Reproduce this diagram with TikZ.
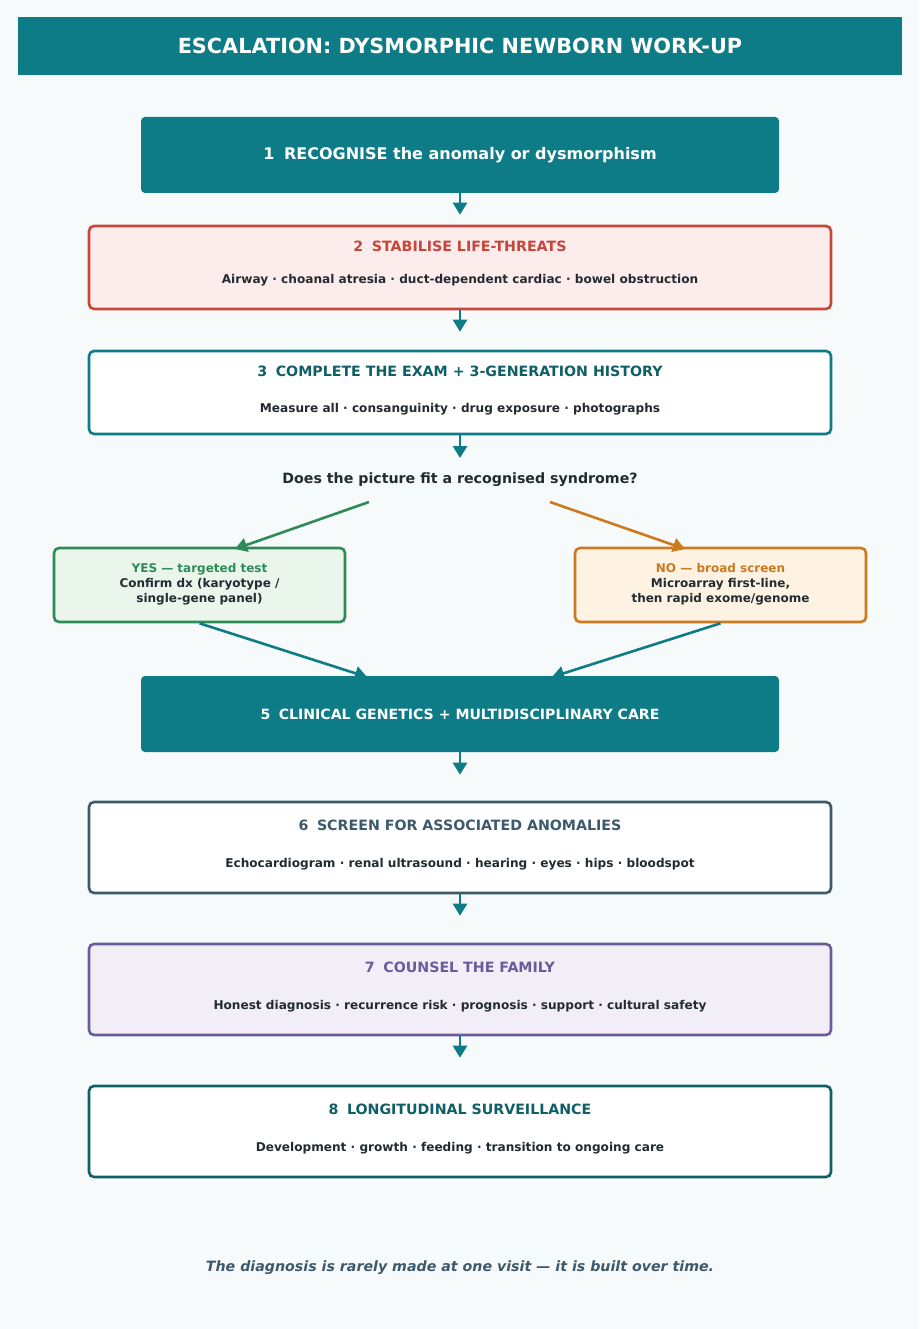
\documentclass[tikz,border=0pt]{standalone}
\usepackage{fontspec}
\setmainfont{DejaVu Sans}
\usepackage{tikz}
\usetikzlibrary{positioning,arrows.meta}
\definecolor{bgcol}{HTML}{F7FAFA}
\definecolor{teal1}{HTML}{0E7C86}
\definecolor{tealdk}{HTML}{0F5F66}
\definecolor{redln}{HTML}{C8453A}
\definecolor{redbg}{HTML}{FDECEC}
\definecolor{grnln}{HTML}{2E8B57}
\definecolor{grnbg}{HTML}{EAF5EC}
\definecolor{orgln}{HTML}{CC7A1E}
\definecolor{orgbg}{HTML}{FEF2E3}
\definecolor{slate}{HTML}{3D5A6C}
\definecolor{purln}{HTML}{6B5B9A}
\definecolor{purbg}{HTML}{F1EEF8}
\definecolor{ink}{HTML}{222B30}
\newcommand{\fs}[1]{\fontsize{#1}{#1}\selectfont}
\tikzset{
  >={Triangle[length=12pt,width=14pt]},
  solidbox/.style={fill=teal1,rounded corners=4pt,minimum width=638pt,
    minimum height=76pt,inner sep=0pt,text=white,font=\bfseries\fs{16}},
  stepbox/.style={draw=#1,line width=2.6pt,rounded corners=5pt,
    minimum width=742pt,inner sep=0pt,fill=white},
  branchbox/.style={draw=#1,line width=2.6pt,rounded corners=5pt,
    minimum width=291pt,minimum height=74pt,inner sep=0pt},
  steptitle/.style={font=\bfseries\fs{14.2},text=#1,inner sep=0pt},
  stepsub/.style={font=\bfseries\fs{12.1},text=ink,inner sep=0pt},
  branchtxt/.style={font=\bfseries\fs{12},text=ink,align=center,inner sep=0pt},
  flow/.style={->,line width=2.6pt,draw=teal1},
}
\begin{document}
\begin{tikzpicture}[x=1pt,y=-1pt]
  \fill[bgcol] (0,0) rectangle (919,1329);
  \useasboundingbox (0,0) rectangle (919,1329);
  % title bar
  \node[fill=teal1,minimum width=884pt,minimum height=58pt,inner sep=0pt,
    text=white,font=\bfseries\fs{20.8}] (title) at (460,46)
    {ESCALATION: DYSMORPHIC NEWBORN WORK-UP};
  % step 1
  \node[solidbox] (s1) at (460,155) {1\hspace{0.6em}RECOGNISE the anomaly or dysmorphism};
  % step 2
  \node[stepbox=redln,fill=redbg,minimum height=83pt] (s2) at (460,267.5) {};
  \node[steptitle=redln] (s2t) at (460,246) {2\hspace{0.6em}STABILISE LIFE-THREATS};
  \node[stepsub] (s2s) at (460,280) {Airway · choanal atresia · duct-dependent cardiac · bowel obstruction};
  % step 3
  \node[stepbox=teal1,minimum height=83pt] (s3) at (460,392.5) {};
  \node[steptitle=tealdk] (s3t) at (460,371) {3\hspace{0.6em}COMPLETE THE EXAM + 3-GENERATION HISTORY};
  \node[stepsub] (s3s) at (460,409) {Measure all · consanguinity · drug exposure · photographs};
  % decision
  \node[font=\bfseries\fs{14.2},text=ink,inner sep=0pt] (q) at (460,480)
    {Does the picture fit a recognised syndrome?};
  \coordinate (qL) at (369,502);
  \coordinate (qR) at (550,502);
  \node[branchbox=grnln,fill=grnbg] (yes) at (199.5,585) {};
  \node[branchtxt] (yest) at (199.5,584)
    {\textcolor{grnln}{YES — targeted test}\\[3pt]Confirm dx (karyotype /\\[3pt]single-gene panel)};
  \node[branchbox=orgln,fill=orgbg] (no) at (720.5,585) {};
  \node[branchtxt] (not) at (720.5,584)
    {\textcolor{orgln}{NO — broad screen}\\[3pt]Microarray first-line,\\[3pt]then rapid exome/genome};
  % step 5
  \node[solidbox,font=\bfseries\fs{14.1}] (s5) at (460,714) {5\hspace{0.6em}CLINICAL GENETICS + MULTIDISCIPLINARY CARE};
  % step 6
  \node[stepbox=slate,minimum height=91pt] (s6) at (460,847.5) {};
  \node[steptitle=slate] (s6t) at (460,825) {6\hspace{0.6em}SCREEN FOR ASSOCIATED ANOMALIES};
  \node[stepsub] (s6s) at (460,864) {Echocardiogram · renal ultrasound · hearing · eyes · hips · bloodspot};
  % step 7
  \node[stepbox=purln,fill=purbg,minimum height=91pt] (s7) at (460,989.5) {};
  \node[steptitle=purln] (s7t) at (460,967) {7\hspace{0.6em}COUNSEL THE FAMILY};
  \node[stepsub] (s7s) at (460,1006) {Honest diagnosis · recurrence risk · prognosis · support · cultural safety};
  % step 8
  \node[stepbox=tealdk,minimum height=91pt] (s8) at (460,1131.5) {};
  \node[steptitle=tealdk] (s8t) at (460,1109) {8\hspace{0.6em}LONGITUDINAL SURVEILLANCE};
  \node[stepsub] (s8s) at (460,1148) {Development · growth · feeding · transition to ongoing care};
  % footer
  \node[font=\bfseries\itshape\fs{14.2},text=slate,inner sep=0pt] (foot) at (460,1268)
    {The diagnosis is rarely made at one visit — it is built over time.};
  % connectors
  \draw[flow] (s1.south) -- ([yshift=10pt]s2.north);
  \draw[flow] (s2.south) -- ([yshift=18pt]s3.north);
  \draw[flow] (s3.south) -- (460,458);
  \draw[->,line width=2.6pt,draw=grnln] (qL) -- (235,549);
  \draw[->,line width=2.6pt,draw=orgln] (qR) -- (685,549);
  \draw[flow] (yes.south) -- (367,677);
  \draw[flow] (no.south) -- (552,677);
  \draw[flow] (s5.south) -- ([yshift=26pt]s6.north);
  \draw[flow] (s6.south) -- ([yshift=27pt]s7.north);
  \draw[flow] (s7.south) -- ([yshift=27pt]s8.north);
\end{tikzpicture}
\end{document}
